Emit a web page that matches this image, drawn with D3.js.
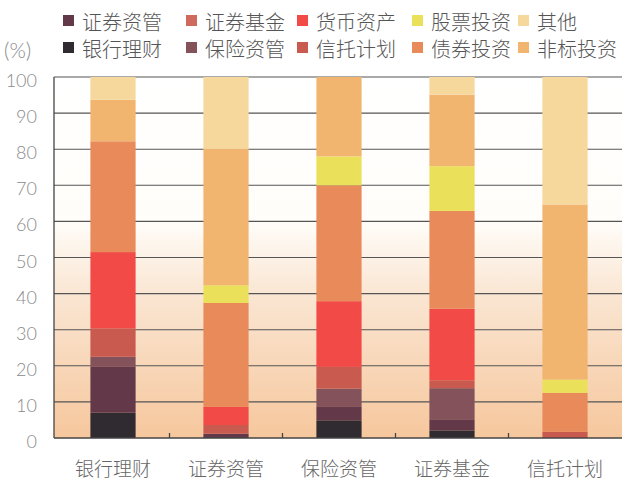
<!DOCTYPE html>
<html>
<head>
<meta charset="utf-8">
<script src="https://cdn.jsdelivr.net/npm/d3@7"></script>
<style>
  html, body { margin: 0; padding: 0; background: #fff; }
  svg { display: block; }
</style>
</head>
<body>
<div id="chart"></div>
<script>
const categories = ["银行理财", "证券资管", "保险资管", "证券基金", "信托计划"];
const seriesNames = ["银行理财", "证券资管", "保险资管", "证券基金", "信托计划", "货币资产", "债券投资", "股票投资", "非标投资", "其他"];
const seriesColors = ["#302a31", "#63394a", "#84525a", "#cf6a5c", "#c95a4f", "#f24a46", "#e98a5b", "#ebe05a", "#f1b56f", "#f6d89c"];
// values per series, in category order
const s银行理财 = [7.0, 0, 4.9, 2.1, 0];
const s证券资管 = [12.7, 1.2, 3.7, 2.9, 0];
const s保险资管 = [2.8, 0, 5.1, 8.8, 0];
const s证券基金 = [0, 0, 0, 0, 0];
const s信托计划 = [7.9, 2.4, 6.0, 2.2, 1.7];
const s货币资产 = [21.1, 5.0, 18.2, 19.8, 0];
const s债券投资 = [30.7, 28.8, 32.1, 27.1, 10.8];
const s股票投资 = [0, 4.9, 8.0, 12.4, 3.7];
const s非标投资 = [11.5, 37.8, 22.0, 19.8, 48.5];
const s其他 = [6.3, 19.9, 0, 4.9, 35.3];
const yTicks = [0, 10, 20, 30, 40, 50, 60, 70, 80, 90, 100];
const legendRow1 = ["证券资管", "证券基金", "货币资产", "股票投资", "其他"];
const legendRow2 = ["银行理财", "保险资管", "信托计划", "债券投资", "非标投资"];

const seriesValues = [s银行理财, s证券资管, s保险资管, s证券基金, s信托计划, s货币资产, s债券投资, s股票投资, s非标投资, s其他];
const table = categories.map((c, i) => {
  const row = { cat: c };
  seriesNames.forEach((s, k) => row[s] = seriesValues[k][i]);
  return row;
});
const colorOf = d3.scaleOrdinal().domain(seriesNames).range(seriesColors);

const W = 622, H = 479;
const pLeft = 54, pRight = 622, pTop = 77, pBottom = 438;
const svg = d3.select("#chart").append("svg").attr("width", W).attr("height", H);

const x = d3.scaleBand().domain(categories).range([56.5, 621.5]).paddingInner(0.6).paddingOuter(0.3);
const y = d3.scaleLinear().domain([0, 100]).range([pBottom, pTop]);

// background gradient
const defs = svg.append("defs");
const grad = defs.append("linearGradient").attr("id", "bg").attr("x1", 0).attr("y1", 0).attr("x2", 0).attr("y2", 1);
grad.append("stop").attr("offset", "0%").attr("stop-color", "#ffffff");
grad.append("stop").attr("offset", "40%").attr("stop-color", "#fffdf9");
grad.append("stop").attr("offset", "60%").attr("stop-color", "#fae6d3");
grad.append("stop").attr("offset", "100%").attr("stop-color", "#f6c79d");
svg.append("rect").attr("x", pLeft).attr("y", pTop).attr("width", pRight - pLeft).attr("height", pBottom - pTop).attr("fill", "url(#bg)");

// gridlines
svg.append("g").selectAll("line").data(yTicks.filter(t => t > 0)).join("line")
  .attr("x1", pLeft).attr("x2", pRight)
  .attr("y1", d => y(d)).attr("y2", d => y(d))
  .attr("stroke", "#555").attr("stroke-width", 1.1);

// bars
const stack = d3.stack().keys(seriesNames);
const layers = stack(table);
svg.append("g").selectAll("g").data(layers).join("g")
  .attr("fill", d => colorOf(d.key))
  .selectAll("rect").data(d => d).join("rect")
  .attr("x", d => x(d.data.cat))
  .attr("width", x.bandwidth())
  .attr("y", d => y(d[1]))
  .attr("height", d => Math.max(0, y(d[0]) - y(d[1])));

// axes lines
svg.append("line").attr("x1", pLeft).attr("x2", pLeft).attr("y1", pTop).attr("y2", pBottom).attr("stroke", "#444").attr("stroke-width", 1.3);
svg.append("line").attr("x1", pLeft).attr("x2", pRight).attr("y1", pBottom).attr("y2", pBottom).attr("stroke", "#444").attr("stroke-width", 1.3);

// category boundary ticks
const bounds = categories.slice(1).map(c => x(c) - x.step() * x.paddingInner() / 2);
svg.append("g").selectAll("line").data(bounds).join("line")
  .attr("x1", d => d).attr("x2", d => d)
  .attr("y1", pBottom).attr("y2", pBottom - 5)
  .attr("stroke", "#444").attr("stroke-width", 1.3);

// y labels
svg.append("g").selectAll("text").data(yTicks).join("text")
  .attr("x", 37).attr("y", d => y(d) + 3)
  .attr("text-anchor", "end").attr("dominant-baseline", "central")
  .attr("font-family", "Lato, 'DejaVu Sans', sans-serif").attr("font-weight", 300)
  .attr("font-size", 18).attr("fill", "#8a8a8a")
  .text(d => d);

svg.append("text").attr("x", 4).attr("y", 49).attr("dominant-baseline", "central")
  .attr("font-family", "Lato, 'DejaVu Sans', sans-serif").attr("font-weight", 300)
  .attr("font-size", 21).attr("fill", "#8a8a8a").text("(%)");

// x labels
svg.append("g").selectAll("text").data(categories).join("text")
  .attr("x", d => x(d) + x.bandwidth() / 2).attr("y", 467)
  .attr("text-anchor", "middle").attr("dominant-baseline", "central")
  .attr("font-family", "'Noto Sans CJK SC', sans-serif").attr("font-weight", 300)
  .attr("font-size", 19).attr("fill", "#666")
  .text(d => d);

// legend
const legX = [63, 186, 297, 412, 518];
function drawLegendRow(names, cy) {
  const g = svg.append("g");
  const items = g.selectAll("g").data(names).join("g")
    .attr("transform", (d, i) => `translate(${legX[i]},${cy})`);
  items.append("rect").attr("x", 0).attr("y", -6).attr("width", 11).attr("height", 11)
    .attr("fill", d => colorOf(d));
  items.append("text").attr("x", 19).attr("y", 0).attr("dominant-baseline", "central")
    .attr("font-family", "'Noto Sans CJK SC', sans-serif").attr("font-weight", 300)
    .attr("font-size", 20).attr("fill", "#555").text(d => d);
}
drawLegendRow(legendRow1, 21);
drawLegendRow(legendRow2, 48);
</script>
</body>
</html>
